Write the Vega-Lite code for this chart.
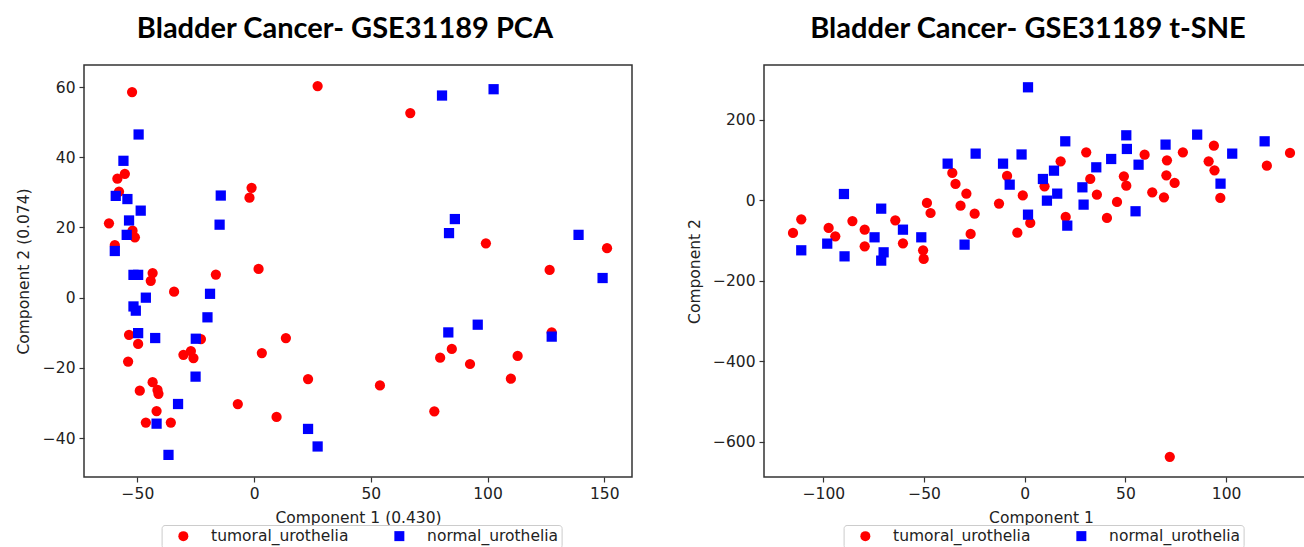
{
  "$schema": "https://vega.github.io/schema/vega-lite/v6.json",
  "background": "white",
  "padding": {"left": 15, "top": 14, "right": 0, "bottom": 0},
  "bounds": "flush",
  "spacing": 132,
  "datasets": {
    "pca": [
      {"x": -52.3, "y": 58.6, "g": "tumoral_urothelia"}, {"x": -55.4, "y": 35.3, "g": "tumoral_urothelia"}, {"x": -58.6, "y": 33.9, "g": "tumoral_urothelia"}, {"x": -57.9, "y": 30.2, "g": "tumoral_urothelia"}, {"x": -62.2, "y": 21.2, "g": "tumoral_urothelia"}, {"x": -52.1, "y": 19.1, "g": "tumoral_urothelia"}, {"x": -51.1, "y": 17.2, "g": "tumoral_urothelia"}, {"x": -59.7, "y": 15.0, "g": "tumoral_urothelia"}, {"x": -1.1, "y": 31.3, "g": "tumoral_urothelia"}, {"x": -2.0, "y": 28.5, "g": "tumoral_urothelia"}, {"x": 1.9, "y": 8.2, "g": "tumoral_urothelia"}, {"x": -16.4, "y": 6.6, "g": "tumoral_urothelia"}, {"x": -43.5, "y": 7.0, "g": "tumoral_urothelia"}, {"x": -44.3, "y": 4.8, "g": "tumoral_urothelia"}, {"x": -34.3, "y": 1.7, "g": "tumoral_urothelia"}, {"x": -53.6, "y": -10.6, "g": "tumoral_urothelia"}, {"x": -49.7, "y": -13.2, "g": "tumoral_urothelia"}, {"x": -22.8, "y": -11.8, "g": "tumoral_urothelia"}, {"x": -30.3, "y": -16.3, "g": "tumoral_urothelia"}, {"x": -27.1, "y": -15.2, "g": "tumoral_urothelia"}, {"x": -26.0, "y": -17.2, "g": "tumoral_urothelia"}, {"x": -54.0, "y": -18.2, "g": "tumoral_urothelia"}, {"x": 3.3, "y": -15.8, "g": "tumoral_urothelia"}, {"x": 13.6, "y": -11.5, "g": "tumoral_urothelia"}, {"x": -43.5, "y": -24.1, "g": "tumoral_urothelia"}, {"x": -49.0, "y": -26.5, "g": "tumoral_urothelia"}, {"x": -41.4, "y": -26.3, "g": "tumoral_urothelia"}, {"x": -41.0, "y": -27.4, "g": "tumoral_urothelia"}, {"x": -7.0, "y": -30.3, "g": "tumoral_urothelia"}, {"x": -41.8, "y": -32.3, "g": "tumoral_urothelia"}, {"x": 9.6, "y": -34.0, "g": "tumoral_urothelia"}, {"x": -46.4, "y": -35.6, "g": "tumoral_urothelia"}, {"x": -35.7, "y": -35.6, "g": "tumoral_urothelia"}, {"x": 23.1, "y": -23.2, "g": "tumoral_urothelia"}, {"x": 27.2, "y": 60.3, "g": "tumoral_urothelia"}, {"x": 66.9, "y": 52.6, "g": "tumoral_urothelia"}, {"x": 99.3, "y": 15.5, "g": "tumoral_urothelia"}, {"x": 151.2, "y": 14.1, "g": "tumoral_urothelia"}, {"x": 126.6, "y": 7.9, "g": "tumoral_urothelia"}, {"x": 127.5, "y": -9.9, "g": "tumoral_urothelia"}, {"x": 84.7, "y": -14.6, "g": "tumoral_urothelia"}, {"x": 79.7, "y": -17.1, "g": "tumoral_urothelia"}, {"x": 92.5, "y": -18.9, "g": "tumoral_urothelia"}, {"x": 112.9, "y": -16.6, "g": "tumoral_urothelia"}, {"x": 110.0, "y": -23.1, "g": "tumoral_urothelia"}, {"x": 53.9, "y": -25.0, "g": "tumoral_urothelia"}, {"x": 77.2, "y": -32.4, "g": "tumoral_urothelia"},
      {"x": -49.5, "y": 46.5, "g": "normal_urothelia"}, {"x": -56.0, "y": 39.0, "g": "normal_urothelia"}, {"x": -59.3, "y": 29.0, "g": "normal_urothelia"}, {"x": -54.3, "y": 28.1, "g": "normal_urothelia"}, {"x": -48.6, "y": 24.8, "g": "normal_urothelia"}, {"x": -53.6, "y": 22.0, "g": "normal_urothelia"}, {"x": -54.6, "y": 17.9, "g": "normal_urothelia"}, {"x": -59.7, "y": 13.3, "g": "normal_urothelia"}, {"x": -14.3, "y": 29.1, "g": "normal_urothelia"}, {"x": -14.8, "y": 20.8, "g": "normal_urothelia"}, {"x": -51.7, "y": 6.5, "g": "normal_urothelia"}, {"x": -49.7, "y": 6.5, "g": "normal_urothelia"}, {"x": -46.4, "y": 0.0, "g": "normal_urothelia"}, {"x": -18.9, "y": 1.1, "g": "normal_urothelia"}, {"x": -51.7, "y": -2.5, "g": "normal_urothelia"}, {"x": -50.7, "y": -3.7, "g": "normal_urothelia"}, {"x": -20.0, "y": -5.6, "g": "normal_urothelia"}, {"x": -49.7, "y": -10.1, "g": "normal_urothelia"}, {"x": -42.4, "y": -11.5, "g": "normal_urothelia"}, {"x": -25.0, "y": -11.7, "g": "normal_urothelia"}, {"x": -25.1, "y": -22.5, "g": "normal_urothelia"}, {"x": -32.6, "y": -30.3, "g": "normal_urothelia"}, {"x": -41.8, "y": -35.9, "g": "normal_urothelia"}, {"x": -36.7, "y": -44.8, "g": "normal_urothelia"}, {"x": 23.1, "y": -37.4, "g": "normal_urothelia"}, {"x": 27.2, "y": -42.4, "g": "normal_urothelia"}, {"x": 80.5, "y": 57.6, "g": "normal_urothelia"}, {"x": 102.6, "y": 59.4, "g": "normal_urothelia"}, {"x": 86.0, "y": 22.4, "g": "normal_urothelia"}, {"x": 83.5, "y": 18.4, "g": "normal_urothelia"}, {"x": 139.0, "y": 17.9, "g": "normal_urothelia"}, {"x": 149.3, "y": 5.6, "g": "normal_urothelia"}, {"x": 83.2, "y": -9.9, "g": "normal_urothelia"}, {"x": 95.8, "y": -7.7, "g": "normal_urothelia"}, {"x": 127.5, "y": -11.1, "g": "normal_urothelia"}
    ],
    "tsne": [
      {"x": -115.1, "y": -80.7, "g": "tumoral_urothelia"}, {"x": -111.0, "y": -46.8, "g": "tumoral_urothelia"}, {"x": -97.4, "y": -68.3, "g": "tumoral_urothelia"}, {"x": -94.1, "y": -89.0, "g": "tumoral_urothelia"}, {"x": -85.6, "y": -51.0, "g": "tumoral_urothelia"}, {"x": -79.5, "y": -72.5, "g": "tumoral_urothelia"}, {"x": -79.5, "y": -113.9, "g": "tumoral_urothelia"}, {"x": -64.3, "y": -49.3, "g": "tumoral_urothelia"}, {"x": -60.5, "y": -106.4, "g": "tumoral_urothelia"}, {"x": -48.6, "y": -6.2, "g": "tumoral_urothelia"}, {"x": -46.8, "y": -31.1, "g": "tumoral_urothelia"}, {"x": -50.5, "y": -123.8, "g": "tumoral_urothelia"}, {"x": -50.2, "y": -145.3, "g": "tumoral_urothelia"}, {"x": -36.0, "y": 68.3, "g": "tumoral_urothelia"}, {"x": -34.4, "y": 41.0, "g": "tumoral_urothelia"}, {"x": -29.0, "y": 17.0, "g": "tumoral_urothelia"}, {"x": -31.9, "y": -12.8, "g": "tumoral_urothelia"}, {"x": -24.9, "y": -32.7, "g": "tumoral_urothelia"}, {"x": -26.9, "y": -83.2, "g": "tumoral_urothelia"}, {"x": -8.8, "y": 60.9, "g": "tumoral_urothelia"}, {"x": -12.8, "y": -7.8, "g": "tumoral_urothelia"}, {"x": -3.7, "y": -79.9, "g": "tumoral_urothelia"}, {"x": -1.0, "y": 12.5, "g": "tumoral_urothelia"}, {"x": 2.7, "y": -55.9, "g": "tumoral_urothelia"}, {"x": 9.8, "y": 35.2, "g": "tumoral_urothelia"}, {"x": 17.8, "y": 97.3, "g": "tumoral_urothelia"}, {"x": 20.3, "y": -41.0, "g": "tumoral_urothelia"}, {"x": 30.5, "y": 119.7, "g": "tumoral_urothelia"}, {"x": 32.5, "y": 53.4, "g": "tumoral_urothelia"}, {"x": 35.8, "y": 14.5, "g": "tumoral_urothelia"}, {"x": 40.8, "y": -43.5, "g": "tumoral_urothelia"}, {"x": 45.8, "y": -3.7, "g": "tumoral_urothelia"}, {"x": 49.2, "y": 60.1, "g": "tumoral_urothelia"}, {"x": 50.4, "y": 36.8, "g": "tumoral_urothelia"}, {"x": 59.5, "y": 113.9, "g": "tumoral_urothelia"}, {"x": 63.3, "y": 20.3, "g": "tumoral_urothelia"}, {"x": 70.6, "y": 99.8, "g": "tumoral_urothelia"}, {"x": 70.3, "y": 62.5, "g": "tumoral_urothelia"}, {"x": 74.4, "y": 43.5, "g": "tumoral_urothelia"}, {"x": 69.1, "y": 7.9, "g": "tumoral_urothelia"}, {"x": 78.5, "y": 119.7, "g": "tumoral_urothelia"}, {"x": 93.9, "y": 136.2, "g": "tumoral_urothelia"}, {"x": 91.3, "y": 97.3, "g": "tumoral_urothelia"}, {"x": 94.2, "y": 74.9, "g": "tumoral_urothelia"}, {"x": 97.1, "y": 6.2, "g": "tumoral_urothelia"}, {"x": 120.2, "y": 86.5, "g": "tumoral_urothelia"}, {"x": 131.7, "y": 118.0, "g": "tumoral_urothelia"}, {"x": 72.0, "y": -637.0, "g": "tumoral_urothelia"},
      {"x": -111.0, "y": -123.8, "g": "normal_urothelia"}, {"x": -98.1, "y": -107.2, "g": "normal_urothelia"}, {"x": -89.8, "y": 16.1, "g": "normal_urothelia"}, {"x": -89.5, "y": -138.8, "g": "normal_urothelia"}, {"x": -74.6, "y": -91.5, "g": "normal_urothelia"}, {"x": -71.3, "y": -20.3, "g": "normal_urothelia"}, {"x": -70.1, "y": -128.8, "g": "normal_urothelia"}, {"x": -71.3, "y": -149.4, "g": "normal_urothelia"}, {"x": -60.5, "y": -72.5, "g": "normal_urothelia"}, {"x": -51.4, "y": -91.5, "g": "normal_urothelia"}, {"x": -38.3, "y": 91.5, "g": "normal_urothelia"}, {"x": -29.9, "y": -109.7, "g": "normal_urothelia"}, {"x": -24.4, "y": 116.4, "g": "normal_urothelia"}, {"x": -10.8, "y": 91.5, "g": "normal_urothelia"}, {"x": -7.5, "y": 39.3, "g": "normal_urothelia"}, {"x": -1.6, "y": 114.3, "g": "normal_urothelia"}, {"x": 1.6, "y": 281.2, "g": "normal_urothelia"}, {"x": 1.6, "y": -35.2, "g": "normal_urothelia"}, {"x": 9.0, "y": 53.4, "g": "normal_urothelia"}, {"x": 14.5, "y": 74.1, "g": "normal_urothelia"}, {"x": 20.1, "y": 147.0, "g": "normal_urothelia"}, {"x": 16.1, "y": 17.0, "g": "normal_urothelia"}, {"x": 11.0, "y": -0.4, "g": "normal_urothelia"}, {"x": 21.1, "y": -62.5, "g": "normal_urothelia"}, {"x": 35.5, "y": 82.4, "g": "normal_urothelia"}, {"x": 28.6, "y": 32.7, "g": "normal_urothelia"}, {"x": 29.2, "y": -10.3, "g": "normal_urothelia"}, {"x": 42.9, "y": 103.1, "g": "normal_urothelia"}, {"x": 50.4, "y": 161.9, "g": "normal_urothelia"}, {"x": 50.7, "y": 128.0, "g": "normal_urothelia"}, {"x": 56.5, "y": 88.9, "g": "normal_urothelia"}, {"x": 55.0, "y": -26.8, "g": "normal_urothelia"}, {"x": 69.9, "y": 138.8, "g": "normal_urothelia"}, {"x": 85.6, "y": 163.6, "g": "normal_urothelia"}, {"x": 103.0, "y": 116.4, "g": "normal_urothelia"}, {"x": 97.2, "y": 41.8, "g": "normal_urothelia"}, {"x": 119.1, "y": 147.0, "g": "normal_urothelia"}
    ]
  },
  "config": {
    "view": {"stroke": "#333333", "strokeWidth": 1.5},
    "axis": {"grid": false, "domain": false, "tickColor": "#333333", "tickSize": 5, "tickWidth": 1.2, "labelFont": "DejaVu Sans", "labelFontSize": 15.5, "labelColor": "#222222", "labelPadding": 4, "titleFont": "DejaVu Sans", "titleFontSize": 15.5, "titleFontWeight": "normal", "titleColor": "#222222"},
    "title": {"font": "Lato", "fontSize": 29, "fontWeight": "bold", "color": "#000000", "offset": 21, "dx": -13},
    "point": {"filled": true, "opacity": 1, "size": 105, "strokeWidth": 0}
  },
  "resolve": {"scale": {"color": "independent", "shape": "independent"}, "legend": {"color": "independent", "shape": "independent"}},
  "hconcat": [
    {
      "title": "Bladder Cancer- GSE31189 PCA",
      "width": 548,
      "height": 412,
      "data": {"name": "pca"},
      "mark": "point",
      "encoding": {
        "x": {"field": "x", "type": "quantitative", "scale": {"domain": [-72.9, 161.9], "nice": false, "zero": false},
              "axis": {"title": "Component 1 (0.430)", "values": [-50, 0, 50, 100, 150], "labelPadding": 4, "titlePadding": 9}},
        "y": {"field": "y", "type": "quantitative", "scale": {"domain": [-51.1, 66.3], "nice": false, "zero": false},
              "axis": {"title": "Component 2 (0.074)", "values": [-40, -20, 0, 20, 40, 60], "minExtent": 41, "maxExtent": 41, "titlePadding": 12}},
        "color": {"field": "g", "type": "nominal", "scale": {"domain": ["tumoral_urothelia", "normal_urothelia"], "range": ["#ff0000", "#0000ff"]},
                  "legend": {"title": null, "orient": "none", "legendX": 77.6, "legendY": 460, "direction": "horizontal", "strokeColor": "#cccccc", "fillColor": "white", "cornerRadius": 3, "padding": 3, "symbolOffset": 11, "labelOffset": 20, "columnPadding": 32, "labelFont": "DejaVu Sans", "labelFontSize": 15.5, "labelColor": "#222222", "symbolSize": 100, "symbolStrokeWidth": 0}},
        "shape": {"field": "g", "type": "nominal", "scale": {"domain": ["tumoral_urothelia", "normal_urothelia"], "range": ["circle", "square"]},
                  "legend": {"title": null, "orient": "none", "legendX": 77.6, "legendY": 460, "direction": "horizontal", "strokeColor": "#cccccc", "fillColor": "white", "cornerRadius": 3, "padding": 3, "symbolOffset": 11, "labelOffset": 20, "columnPadding": 32, "labelFont": "DejaVu Sans", "labelFontSize": 15.5, "labelColor": "#222222", "symbolSize": 100, "symbolStrokeWidth": 0}}
      }
    },
    {
      "title": "Bladder Cancer- GSE31189 t-SNE",
      "width": 554,
      "height": 412,
      "data": {"name": "tsne"},
      "mark": "point",
      "encoding": {
        "x": {"field": "x", "type": "quantitative", "scale": {"domain": [-129.5, 145.6], "nice": false, "zero": false},
              "axis": {"title": "Component 1", "values": [-100, -50, 0, 50, 100], "labelPadding": 4, "titlePadding": 9}},
        "y": {"field": "y", "type": "quantitative", "scale": {"domain": [-687, 336.6], "nice": false, "zero": false},
              "axis": {"title": "Component 2", "values": [-600, -400, -200, 0, 200], "minExtent": 51, "maxExtent": 51, "titlePadding": 11}},
        "color": {"field": "g", "type": "nominal", "scale": {"domain": ["tumoral_urothelia", "normal_urothelia"], "range": ["#ff0000", "#0000ff"]},
                  "legend": {"title": null, "orient": "none", "legendX": 79.6, "legendY": 460, "direction": "horizontal", "strokeColor": "#cccccc", "fillColor": "white", "cornerRadius": 3, "padding": 3, "symbolOffset": 11, "labelOffset": 20, "columnPadding": 32, "labelFont": "DejaVu Sans", "labelFontSize": 15.5, "labelColor": "#222222", "symbolSize": 100, "symbolStrokeWidth": 0}},
        "shape": {"field": "g", "type": "nominal", "scale": {"domain": ["tumoral_urothelia", "normal_urothelia"], "range": ["circle", "square"]},
                  "legend": {"title": null, "orient": "none", "legendX": 79.6, "legendY": 460, "direction": "horizontal", "strokeColor": "#cccccc", "fillColor": "white", "cornerRadius": 3, "padding": 3, "symbolOffset": 11, "labelOffset": 20, "columnPadding": 32, "labelFont": "DejaVu Sans", "labelFontSize": 15.5, "labelColor": "#222222", "symbolSize": 100, "symbolStrokeWidth": 0}}
      }
    }
  ]
}
